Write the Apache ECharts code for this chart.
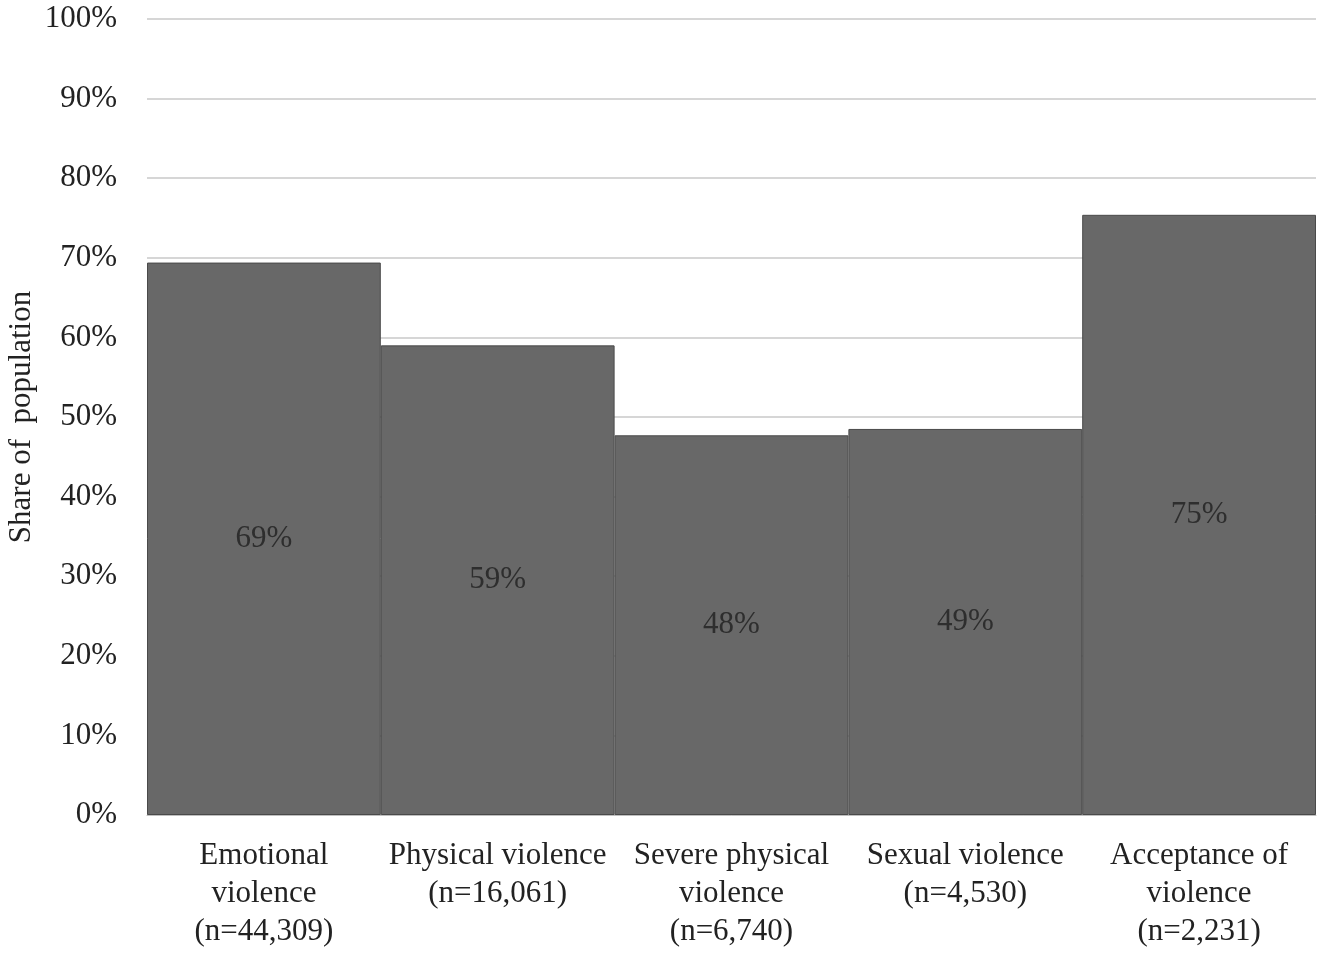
<!DOCTYPE html>
<html>
<head>
<meta charset="utf-8">
<script src="https://cdn.jsdelivr.net/npm/echarts@6/dist/echarts.min.js"></script>
<style>html,body{margin:0;padding:0;background:#fff;}#c{width:1325px;height:959px;}</style>
</head>
<body>
<div id="c"></div>
<script>
var categories = ["Emotional\nviolence\n(n=44,309)", "Physical violence\n(n=16,061)", "Severe physical\nviolence\n(n=6,740)", "Sexual violence\n(n=4,530)", "Acceptance of\nviolence\n(n=2,231)"];
var values = [69.4, 59.0, 47.7, 48.5, 75.4];
var yTicks = [0, 10, 20, 30, 40, 50, 60, 70, 80, 90, 100];

var FONT = "Liberation Serif";
var chart = echarts.init(document.getElementById('c'));
chart.setOption({
  animation: false,
  grid: {left: 147, right: 9, top: 19, bottom: 144, containLabel: false, outerBoundsMode: 'none'},
  xAxis: {
    type: 'category',
    data: categories,
    axisLine: {show: true, lineStyle: {color: '#bfbfbf'}},
    axisTick: {show: false},
    axisLabel: {fontFamily: FONT, fontSize: 31, color: '#222', lineHeight: 38, margin: 22, interval: 0}
  },
  yAxis: {
    type: 'value',
    min: 0, max: 100, interval: 10,
    name: 'Share of  population',
    nameLocation: 'middle',
    nameGap: 110,
    nameMoveOverlap: false,
    nameTextStyle: {fontFamily: FONT, fontSize: 31, color: '#222'},
    axisLine: {show: false},
    axisTick: {show: false},
    splitLine: {lineStyle: {color: '#c8c8c8', width: 1.5}},
    axisLabel: {fontFamily: FONT, fontSize: 31, color: '#222', margin: 30,
      formatter: function (v) { return yTicks.indexOf(v) >= 0 ? v + '%' : ''; }}
  },
  series: [{
    type: 'bar',
    data: values,
    barCategoryGap: 0,
    itemStyle: {color: '#686868', borderColor: '#4a4a4a', borderWidth: 1},
    label: {show: true, position: 'inside', fontFamily: FONT, fontSize: 31, color: '#2e2e2e',
      formatter: function (p) { return Math.round(p.value) + '%'; }}
  }]
});
</script>
</body>
</html>
